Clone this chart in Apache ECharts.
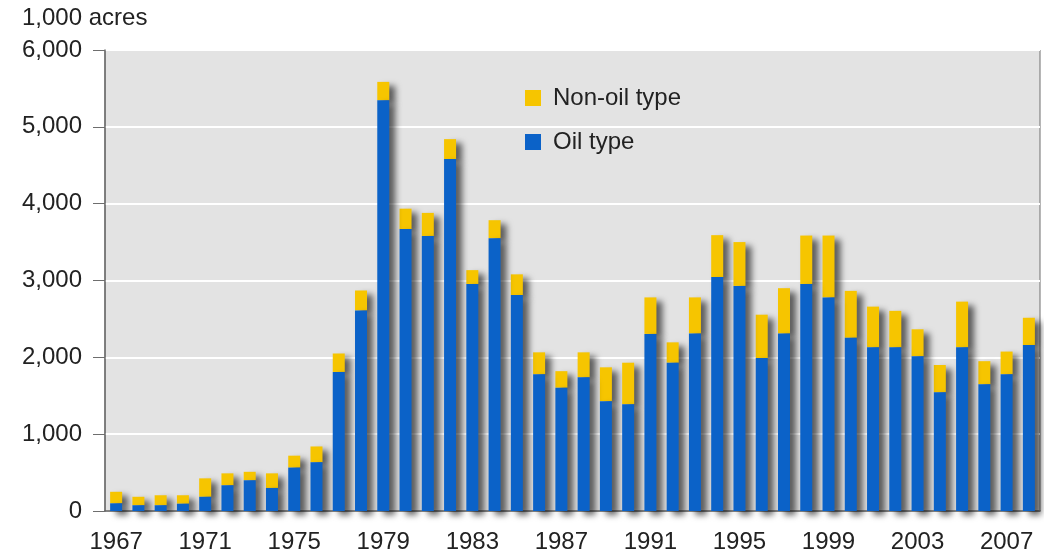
<!DOCTYPE html>
<html>
<head>
<meta charset="utf-8">
<script src="https://cdn.jsdelivr.net/npm/echarts@6/dist/echarts.min.js"></script>
<style>html,body{margin:0;padding:0;background:#fff;}#c{width:1044px;height:554px;}</style>
</head>
<body>
<div id="c"></div>
<script>
const years = ['1967','1968','1969','1970','1971','1972','1973','1974','1975','1976','1977','1978','1979','1980','1981','1982','1983','1984','1985','1986','1987','1988','1989','1990','1991','1992','1993','1994','1995','1996','1997','1998','1999','2000','2001','2002','2003','2004','2005','2006','2007','2008'];
const oilType = [100,75,75,95,185,335,400,300,565,635,1810,2610,5345,3670,3580,4580,2955,3550,2810,1780,1605,1740,1430,1390,2305,1930,2310,3045,2930,1990,2310,2955,2780,2255,2130,2130,2015,1545,2130,1650,1780,2160];
const nonOilType = [150,110,130,110,240,155,110,190,155,205,240,260,240,265,300,260,180,235,270,285,215,325,440,540,475,265,470,545,570,565,590,630,805,610,530,475,350,355,595,300,295,355];
const yTicks = [0,1000,2000,3000,4000,5000,6000];

const font = '"Liberation Sans", Arial, sans-serif';
const shadow = {shadowColor:'rgba(0,0,0,0.6)', shadowBlur:6, shadowOffsetX:6, shadowOffsetY:4};
const chart = echarts.init(document.getElementById('c'));
chart.setOption({
  animation:false,
  backgroundColor:'#ffffff',
  title:{text:'1,000 acres', left:17, top:1, textStyle:{fontFamily:font, fontSize:24, fontWeight:'normal', color:'#222'}},
  legend:{
    orient:'vertical', left:520, top:81, itemWidth:16, itemHeight:16, itemGap:20,
    icon:'rect',
    data:['Non-oil type','Oil type'],
    textStyle:{fontFamily:font, fontSize:24, color:'#222', padding:[0,0,0,7]}
  },
  grid:{left:105, right:4, top:50, bottom:41, show:true, backgroundColor:'#e3e3e3', borderColor:'#6e6e6e', borderWidth:1},
  xAxis:{
    type:'category', data:years,
    axisLine:{lineStyle:{color:'#5e5e5e', width:1.5}},
    axisTick:{alignWithLabel:true, interval:3, length:12, lineStyle:{color:'#6e6e6e'}},
    axisLabel:{interval:3, fontFamily:font, fontSize:24, color:'#222', margin:19}
  },
  yAxis:{
    type:'value', min:yTicks[0], max:yTicks[yTicks.length-1], interval:1000,
    axisLine:{show:true, lineStyle:{color:'#6e6e6e', width:1.5}},
    axisTick:{show:true, length:12, lineStyle:{color:'#6e6e6e'}},
    axisLabel:{fontFamily:font, fontSize:24, color:'#222', margin:23, formatter:v=>v.toLocaleString('en-US')},
    splitLine:{lineStyle:{color:'#ffffff', width:2}}
  },
  series:[
    {name:'Oil type', type:'bar', stack:'a', z:3, data:oilType, barWidth:12, itemStyle:Object.assign({color:'#0b62c8'}, shadow)},
    {name:'Non-oil type', type:'bar', stack:'a', z:2, data:nonOilType, barWidth:12, itemStyle:Object.assign({color:'#f6c500'}, shadow)}
  ]
});
</script>
</body>
</html>
